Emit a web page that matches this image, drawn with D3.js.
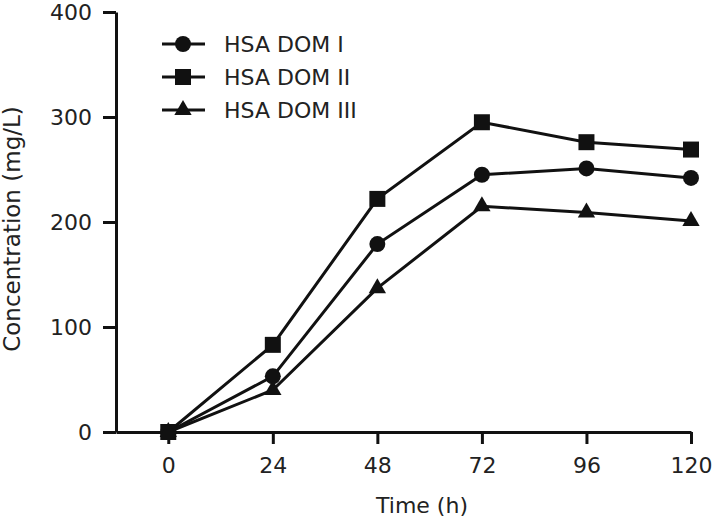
<!DOCTYPE html>
<html>
<head>
<meta charset="utf-8">
<script src="https://cdn.jsdelivr.net/npm/d3@7"></script>
<style>
  body { margin: 0; background: #fff; }
  svg { display: block; font-family: "DejaVu Sans", sans-serif; }
</style>
</head>
<body>
<div id="chart"></div>
<script>
var hours = [0, 24, 48, 72, 96, 120],
  domI = [0, 53, 179, 245, 251, 242],
  domII = [0, 83, 222, 295, 276, 269],
  domIII = [0, 40, 137, 215, 209, 201],
  seriesNames = ['HSA DOM I', 'HSA DOM II', 'HSA DOM III'],
  yTicks = [0, 100, 200, 300, 400];

var w = 714, h = 521;

var svg = d3.select('#chart').
  append('svg').
  attr('width', w).
  attr('height', h);

var xScale = d3.scaleLinear().
  domain([-12, 120]).
  range([116, 691]);

var yScale = d3.scaleLinear().
  domain([0, 400]).
  range([432, 12]);

var series = [
  { name: seriesNames[0], values: domI, shape: d3.symbolCircle, size: 200 },
  { name: seriesNames[1], values: domII, shape: d3.symbolSquare, size: 256 },
  { name: seriesNames[2], values: domIII, shape: d3.symbolTriangle, size: 130 }
];

var line = d3.line().
  x((d, i) => xScale(hours[i])).
  y(d => yScale(d));

// axes
var xAxis = d3.axisBottom(xScale).
  tickValues(hours).
  tickSize(12).
  tickPadding(13).
  tickSizeOuter(0);

var yAxis = d3.axisLeft(yScale).
  tickValues(yTicks).
  tickSize(13).
  tickPadding(11).
  tickSizeOuter(0);

var gx = svg.append('g').
  attr('transform', 'translate(0,' + yScale(0) + ')').
  call(xAxis);

var gy = svg.append('g').
  attr('transform', 'translate(' + xScale(-12) + ',0)').
  call(yAxis);

[gx, gy].forEach(function (g) {
  g.select('.domain').attr('stroke', '#111').attr('stroke-width', 3);
  g.selectAll('.tick line').attr('stroke', '#111').attr('stroke-width', 3);
  g.selectAll('.tick text').
    attr('fill', '#222').
    style('font-size', '22px').
    style('font-family', '"DejaVu Sans", sans-serif');
});

// lines + markers
series.forEach(function (s) {
  svg.append('path').
    datum(s.values).
    attr('fill', 'none').
    attr('stroke', '#111').
    attr('stroke-width', 3).
    attr('d', line);

  svg.selectAll(null).
    data(s.values).
    enter().
    append('path').
    attr('transform', (d, i) => 'translate(' + xScale(hours[i]) + ',' + yScale(d) + ')').
    attr('d', d3.symbol().type(s.shape).size(s.size)).
    attr('fill', '#111');
});

// legend
var legend = svg.append('g').
  attr('transform', 'translate(162,44)');

legend.selectAll('g').
  data(series).
  enter().
  append('g').
  attr('transform', (d, i) => 'translate(0,' + i * 33 + ')').
  each(function (s) {
    var g = d3.select(this);
    g.append('line').
      attr('x1', 0).
      attr('x2', 43).
      attr('stroke', '#111').
      attr('stroke-width', 3);
    g.append('path').
      attr('transform', 'translate(21,0)').
      attr('d', d3.symbol().type(s.shape).size(s.size)).
      attr('fill', '#111');
    g.append('text').
      attr('x', 62).
      attr('y', 8).
      attr('fill', '#222').
      style('font-size', '22px').
      text(s.name);
  });

// axis titles
svg.append('text').
  attr('x', 422).
  attr('y', 513).
  attr('text-anchor', 'middle').
  attr('fill', '#222').
  style('font-size', '22px').
  text('Time (h)');

svg.append('text').
  attr('transform', 'translate(20,229) rotate(-90)').
  attr('text-anchor', 'middle').
  attr('fill', '#222').
  style('font-size', '23px').
  text('Concentration (mg/L)');
</script>
</body>
</html>
